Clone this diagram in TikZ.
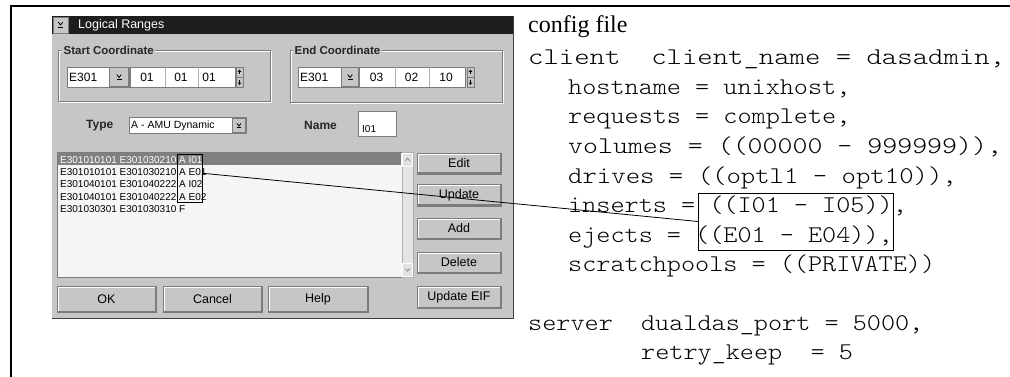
\documentclass[tikz,border=0pt]{standalone}
\usepackage{graphicx}
\usepackage{fontspec}
\setmainfont{Liberation Serif}
\setsansfont{Liberation Sans}
\newfontfamily\cfgfont{lmmonolt10-regular.otf}[FakeStretch=1.12]
\usetikzlibrary{calc}
\definecolor{wingray}{HTML}{C6C6C6}
\definecolor{edgedark}{HTML}{7C7C7C}
\definecolor{titlebar}{HTML}{1E1E1E}
\definecolor{listbg}{HTML}{F5F5F5}
\definecolor{selrow}{HTML}{808080}
\definecolor{trackbg}{HTML}{E4E4E4}
\begin{document}
\begin{tikzpicture}[x=1pt,y=-1pt,
  panel/.style={anchor=north west, inner sep=0pt, outer sep=0pt},
  btn/.style={panel, draw=edgedark, fill=wingray, line width=0.8pt,
    font=\sffamily\fontsize{12.5}{12.5}\selectfont,
    path picture={\draw[white,line width=1.4pt]
      ($(path picture bounding box.south west)+(1.2,-1.4)$) |-
      ($(path picture bounding box.north east)+(-1.4,1.2)$);
      \draw[edgedark,line width=1.2pt]
      ($(path picture bounding box.south west)+(1.2,-0.9)$) -|
      ($(path picture bounding box.north east)+(-0.9,1.2)$);}},
  field/.style={panel, draw=edgedark, fill=white, line width=0.6pt},
  minibtn/.style={panel, draw=edgedark, fill=wingray, line width=0.5pt},
  gtext/.style={inner sep=0pt, font=\sffamily\fontsize{12}{12}\selectfont},
  glabel/.style={inner sep=1.5pt, fill=wingray, font=\sffamily\bfseries\fontsize{11.5}{11.5}\selectfont, text=black!85},
  blabel/.style={inner sep=0pt, font=\sffamily\bfseries\fontsize{12}{12}\selectfont, text=black!85},
  listtext/.style={anchor=base west, inner sep=0pt, font=\sffamily\fontsize{10}{10}\selectfont},
  cfg/.style={anchor=base west, inner sep=0pt, font=\cfgfont\fontsize{24}{28}\selectfont},
  hilite/.style={panel, draw=black, line width=0.9pt},
  grpbox/.style={panel, draw=edgedark, line width=0.7pt},
  ddicon/.pic={\draw[line width=0.8pt] (-2.3,-3) -- (0,0) -- (2.3,-3);
               \draw[line width=0.8pt] (-2.5,2) -- (2.5,2);},
  uparr/.pic={\fill (0,-3.2) -- (2.2,-0.6) -- (-2.2,-0.6) -- cycle;
              \draw[line width=0.9pt] (0,-1) -- (0,2.8);},
  dnarr/.pic={\fill (0,3.2) -- (2.2,0.6) -- (-2.2,0.6) -- cycle;
              \draw[line width=0.9pt] (0,1) -- (0,-2.8);},
]
\useasboundingbox (0,0) rectangle (1010,377);
\fill[white] (0,0) rectangle (1010,377);
% outer frame lines
\draw[line width=2.6pt] (1010,6) -- (11,6) -- (11,377);

% window
\node[panel, fill=wingray, minimum width=461pt, minimum height=302pt] (win) at (52,16) {};
\draw[black!75, line width=1pt] (win.north east) -- (win.south east) -- (win.south west);
\node[panel, fill=titlebar, minimum width=461pt, minimum height=18pt] (title) at (52,16) {};
\node[panel, fill=wingray, draw=edgedark, minimum width=15pt, minimum height=16pt] (sysmenu) at (53,17) {};
\pic at (sysmenu.center) {ddicon};
\node[gtext, anchor=west, text=white, font=\sffamily\fontsize{12.5}{12.5}\selectfont] (ttl) at (78,25.5) {Logical Ranges};

% Start Coordinate group
\draw[white, line width=0.7pt] (59,51) rectangle (271,102);
\node[grpbox, minimum width=212pt, minimum height=51pt] (startgrp) at (58,50) {};
\node[glabel, anchor=west] (startlbl) at (62,50) {Start Coordinate};
\node[field, minimum width=62pt, minimum height=20pt] (scombo) at (67,67) {};
\node[gtext, anchor=west] (scombotxt) at (69,77.5) {E301};
\node[minibtn, minimum width=19pt, minimum height=19pt] (scombobtn) at (109.5,67.5) {};
\pic at ($(scombobtn.center)+(0,0.5)$) {ddicon};
\node[field, minimum width=105pt, minimum height=20pt] (sfld) at (130,67) {};
\draw[edgedark!60, line width=0.6pt] (165,67) -- (165,87) (198,67) -- (198,87);
\node[gtext] (sf1) at (147,77.5) {01};
\node[gtext] (sf2) at (181,77.5) {01};
\node[gtext] (sf3) at (209,77.5) {01};
\node[minibtn, minimum width=7pt, minimum height=9.5pt] (sup) at (236,67.5) {};
\node[minibtn, minimum width=7pt, minimum height=9.5pt] (sdn) at (236,77.5) {};
\pic[scale=0.8] at (sup.center) {uparr};
\pic[scale=0.8] at (sdn.center) {dnarr};

% End Coordinate group
\draw[white, line width=0.7pt] (291,51) rectangle (503,103);
\node[grpbox, minimum width=212pt, minimum height=52pt] (endgrp) at (290,50) {};
\node[glabel, anchor=west] (endlbl) at (293,50) {End Coordinate};
\node[field, minimum width=61pt, minimum height=20pt] (ecombo) at (298,67) {};
\node[gtext, anchor=west] (ecombotxt) at (300,77.5) {E301};
\node[minibtn, minimum width=17pt, minimum height=19pt] (ecombobtn) at (341.5,67.5) {};
\pic at ($(ecombobtn.center)+(0,0.5)$) {ddicon};
\node[field, minimum width=106pt, minimum height=20pt] (efld) at (359,67) {};
\draw[edgedark!60, line width=0.6pt] (395,67) -- (395,87) (429,67) -- (429,87);
\node[gtext] (ef1) at (376.5,77.5) {03};
\node[gtext] (ef2) at (411.5,77.5) {02};
\node[gtext] (ef3) at (446,77.5) {10};
\node[minibtn, minimum width=7pt, minimum height=9.5pt] (eup) at (467,67.5) {};
\node[minibtn, minimum width=7pt, minimum height=9.5pt] (edn) at (467,77.5) {};
\pic[scale=0.8] at (eup.center) {uparr};
\pic[scale=0.8] at (edn.center) {dnarr};

% Type and Name
\node[blabel, anchor=west] (typelbl) at (86,126) {Type};
\node[field, minimum width=117pt, minimum height=16pt] (tcombo) at (129,117.5) {};
\node[gtext, anchor=west, font=\sffamily\fontsize{10.5}{10.5}\selectfont] (tcombotxt) at (131,125.5) {A - AMU Dynamic};
\node[minibtn, minimum width=13pt, minimum height=14pt] (tcombobtn) at (232.5,118.5) {};
\pic[scale=0.85] at ($(tcombobtn.center)+(0,0.5)$) {ddicon};
\node[blabel, anchor=west] (namelbl) at (304,125) {Name};
\node[field, minimum width=38pt, minimum height=25pt] (namefld) at (358,111) {};
\node[gtext, anchor=west, font=\sffamily\fontsize{10}{10}\selectfont] (nametxt) at (362,129.5) {I01};

% list box
\node[panel, fill=listbg, draw=edgedark, line width=0.7pt, minimum width=345pt, minimum height=125pt] (list) at (57,152) {};
\node[panel, fill=selrow, minimum width=343pt, minimum height=12.5pt] (selbar) at (58,152.8) {};
\node[listtext, text=white] (r1) at (60,163.3) {E301010101 E301030210 A I01};
\node[listtext] (r2) at (60,175.7) {E301010101 E301030210 A E01};
\node[listtext] (r3) at (60,188) {E301040101 E301040222 A I02};
\node[listtext] (r4) at (60,200.3) {E301040101 E301040222 A E02};
\node[listtext] (r5) at (60,212.6) {E301030301 E301030310 F};
\node[panel, fill=trackbg, draw=edgedark!60, line width=0.5pt, minimum width=11pt, minimum height=125pt] (sbar) at (402,152) {};
\node[panel, fill=wingray!50!white, draw=white, line width=0.5pt, minimum width=10pt, minimum height=13pt] (sbup) at (402.5,153) {};
\node[panel, fill=wingray!50!white, draw=white, line width=0.5pt, minimum width=10pt, minimum height=13pt] (sbdn) at (402.5,263.5) {};
\draw[edgedark, line width=0.6pt] ($(sbup.center)+(-2.5,1.5)$) -- ($(sbup.center)+(0,-1.2)$) -- ($(sbup.center)+(2.5,1.5)$);
\draw[edgedark, line width=0.6pt] ($(sbdn.center)+(-2.5,-1.5)$) -- ($(sbdn.center)+(0,1.2)$) -- ($(sbdn.center)+(2.5,-1.5)$);

% highlight on list
\node[hilite, minimum width=25pt, minimum height=48pt] (sel) at (177,154) {};

% buttons
\node[btn, minimum width=84pt, minimum height=21pt] (edit) at (417,153) {Edit};
\node[btn, minimum width=84pt, minimum height=22pt] (update) at (417,184) {Update};
\node[btn, minimum width=84pt, minimum height=21pt] (add) at (417,218) {Add};
\node[btn, minimum width=84pt, minimum height=21pt] (delete) at (417,252) {Delete};
\node[btn, minimum width=84pt, minimum height=22pt] (updeif) at (417,286) {Update EIF};
\node[btn, minimum width=99pt, minimum height=26pt] (ok) at (57,286) {OK};
\node[btn, minimum width=99pt, minimum height=26pt] (cancel) at (163,286) {Cancel};
\node[btn, minimum width=100pt, minimum height=26pt] (help) at (268,286) {Help};

% config file text
\node[anchor=base west, inner sep=0pt, font=\rmfamily\fontsize{24}{24}\selectfont] (cfgtitle) at (528,33) {config file};
\node[cfg] (c1) at (528,65) {\scalebox{1.09}[1]{client~~client\_name = dasadmin,}};
\node[cfg] (c2) at (568,94.5) {hostname = unixhost,};
\node[cfg] (c3) at (568,124) {requests = complete,};
\node[cfg] (c4) at (568,153.5) {\scalebox{1.06}[1]{volumes = ((00000 - 999999)),}};
\node[cfg] (c5) at (568,183) {\scalebox{1.02}[1]{drives = ((optl1 - opt10)),}};
\node[cfg] (c6) at (568,212.5) {inserts = ((I01 - I05)),};
\node[cfg] (c7) at (568,242) {ejects = ((E01 - E04)),};
\node[cfg] (c8) at (568,271.5) {scratchpools = ((PRIVATE))};
\node[cfg] (c9) at (528,330) {server~~dualdas\_port = 5000,};
\node[cfg] (c10) at (641,359.5) {retry\_keep~~= 5};

\node[hilite, minimum width=195pt, minimum height=57pt] (cbox) at (698,193) {};

% connector
\draw[line width=0.8pt] ($(sel.north east)!0.4!(sel.south east)$) -- (cbox.west);
\end{tikzpicture}
\end{document}
